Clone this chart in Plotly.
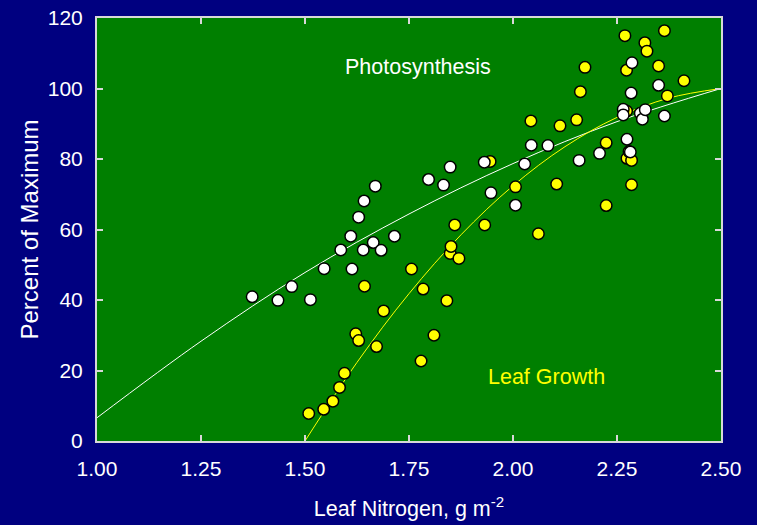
import plotly.graph_objects as go

# Photosynthesis (white points)
photo_x = [1.373, 1.435, 1.468, 1.513, 1.546, 1.586, 1.610, 1.613, 1.629, 1.642,
           1.640, 1.664, 1.669, 1.683, 1.715, 1.797, 1.833, 1.849, 1.931, 2.006,
           1.947, 2.028, 2.044, 2.084, 2.159, 2.208, 2.265, 2.265, 2.274, 2.282,
           2.284, 2.286, 2.306, 2.311, 2.318, 2.350, 2.364]
photo_y = [40.9, 39.9, 43.8, 40.1, 48.9, 54.2, 58.1, 48.8, 63.5, 68.1,
           54.2, 56.3, 72.3, 54.1, 58.1, 74.2, 72.6, 77.7, 79.1, 66.9,
           70.4, 78.6, 83.9, 83.8, 79.6, 81.6, 94.1, 92.5, 85.6, 82.0,
           98.7, 107.3, 93.0, 91.3, 94.0, 100.9, 92.2]

# Leaf growth (yellow points)
growth_x = [1.509, 1.545, 1.567, 1.583, 1.595, 1.622, 1.629, 1.643, 1.672, 1.689,
            1.756, 1.779, 1.784, 1.810, 1.841, 1.849, 1.851, 1.860, 1.870, 1.932,
            1.945, 2.006, 2.043, 2.061, 2.105, 2.113, 2.153, 2.162, 2.173, 2.224,
            2.224, 2.269, 2.273, 2.273, 2.274, 2.279, 2.285, 2.285, 2.317, 2.322,
            2.350, 2.364, 2.371, 2.411]
growth_y = [7.8, 9.0, 11.3, 15.2, 19.2, 30.4, 28.5, 43.9, 26.8, 36.9,
            48.8, 22.7, 43.1, 30.0, 39.8, 53.2, 55.2, 61.3, 51.8, 61.3,
            79.3, 72.1, 90.8, 58.8, 72.9, 89.4, 91.1, 99.1, 106.0, 84.6,
            66.8, 115.0, 105.2, 93.6, 80.2, 82.1, 79.6, 72.7, 113.0, 110.6,
            106.4, 116.4, 97.9, 102.2]

# Fitted curves
photo_curve_x = [1.00, 1.25, 1.50, 1.75, 2.00, 2.25, 2.50]
photo_curve_y = [6.6, 28.3, 47.8, 64.4, 78.7, 90.6, 100.0]
growth_curve_x = [1.50, 1.625, 1.75, 1.875, 2.00, 2.125, 2.25, 2.375, 2.50]
growth_curve_y = [0.0, 22.3, 41.8, 58.5, 72.4, 83.5, 91.8, 97.3, 100.0]

x_ticks = [1.00, 1.25, 1.50, 1.75, 2.00, 2.25, 2.50]
x_tick_labels = ["1.00", "1.25", "1.50", "1.75", "2.00", "2.25", "2.50"]
y_ticks = [0, 20, 40, 60, 80, 100, 120]

NAVY = "#000080"
GREEN = "#007f00"
AXIS = "#d8d8d8"
FONT = "Liberation Sans, Arial, sans-serif"

fig = go.Figure()
fig.add_trace(go.Scatter(x=photo_curve_x, y=photo_curve_y, mode="lines",
                         line=dict(color="white", width=1, shape="spline"),
                         hoverinfo="skip", showlegend=False))
fig.add_trace(go.Scatter(x=growth_curve_x, y=growth_curve_y, mode="lines",
                         line=dict(color="yellow", width=1, shape="spline"),
                         hoverinfo="skip", showlegend=False))
fig.add_trace(go.Scatter(x=growth_x, y=growth_y, mode="markers", name="Leaf Growth",
                         marker=dict(color="yellow", size=11.5,
                                     line=dict(color="black", width=1.5)),
                         showlegend=False))
fig.add_trace(go.Scatter(x=photo_x, y=photo_y, mode="markers", name="Photosynthesis",
                         marker=dict(color="white", size=11.5,
                                     line=dict(color="black", width=1.5)),
                         showlegend=False))

fig.add_annotation(x=1.772, y=106.1, text="Photosynthesis", showarrow=False,
                   font=dict(family=FONT, size=21.5, color="white"))
fig.add_annotation(x=2.081, y=18.2, text="Leaf Growth", showarrow=False,
                   font=dict(family=FONT, size=21.5, color="yellow"))

fig.update_layout(
    width=757, height=525,
    margin=dict(l=97, r=36, t=18, b=84),
    paper_bgcolor=NAVY, plot_bgcolor=GREEN,
    font=dict(family=FONT, color="white", size=21),
    xaxis=dict(range=[1.0, 2.5], tickvals=x_ticks, ticktext=x_tick_labels,
               automargin=False,
               showgrid=False, zeroline=False, showline=True, linecolor=AXIS,
               linewidth=2, mirror="ticks", ticks="inside", ticklen=6,
               tickcolor=AXIS, tickwidth=1.5, ticklabelstandoff=8,
               tickfont=dict(family=FONT, size=21, color="white"),
               title=dict(text="Leaf Nitrogen, g m<sup>-2</sup>", standoff=22,
                          font=dict(family=FONT, size=21.5, color="white"))),
    yaxis=dict(range=[0, 120], tickvals=y_ticks, automargin=False,
               showgrid=False, zeroline=False, showline=True, linecolor=AXIS,
               linewidth=2, mirror="ticks", ticks="inside", ticklen=6,
               tickcolor=AXIS, tickwidth=1.5, ticklabelstandoff=8,
               tickfont=dict(family=FONT, size=21, color="white"),
               title=dict(text="Percent of Maximum", standoff=2,
                          font=dict(family=FONT, size=24, color="white"))),
)

fig.write_html("out.html",
               config={"displayModeBar": False},
               post_script="document.body.style.margin='0px';"
                           "document.body.style.background='#000080';")
